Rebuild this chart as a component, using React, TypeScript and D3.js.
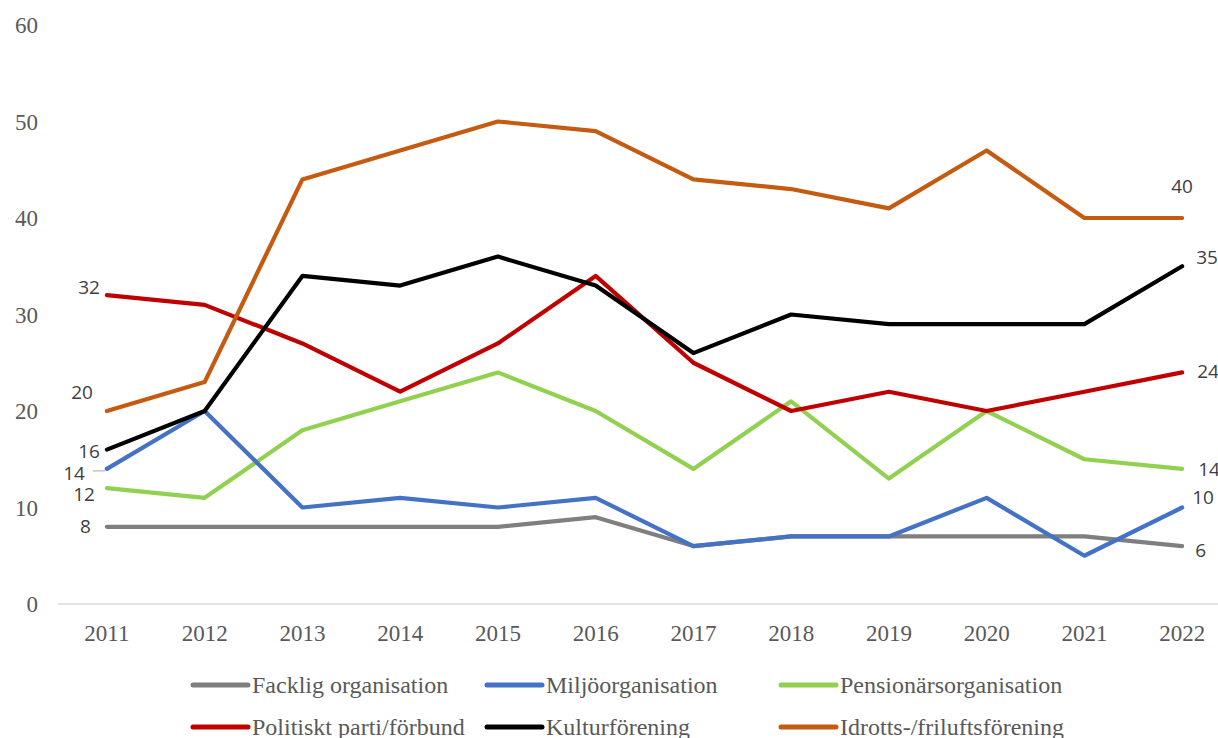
import React from "react";
import * as d3 from "d3";

const years = ["2011","2012","2013","2014","2015","2016","2017","2018","2019","2020","2021","2022"];
const facklig = [8,8,8,8,8,9,6,7,7,7,7,6];
const miljo = [14,20,10,11,10,11,6,7,7,11,5,10];
const pension = [12,11,18,21,24,20,14,21,13,20,15,14];
const politiskt = [32,31,27,22,27,34,25,20,22,20,22,24];
const kultur = [16,20,34,33,36,33,26,30,29,29,29,35];
const idrott = [20,23,44,47,50,49,44,43,41,47,40,40];
const yTicks = [0,10,20,30,40,50,60];

const seriesNames = ["Facklig organisation","Miljöorganisation","Pensionärsorganisation","Politiskt parti/förbund","Kulturförening","Idrotts-/friluftsförening"];
const seriesValues = [facklig, miljo, pension, politiskt, kultur, idrott];
const colors = ["#7f7f7f","#4472c4","#92d050","#c00000","#000000","#c55a11"];
const drawOrder = [2,0,1,3,4,5];

const endLabels: [number, number, number, number, string][] = [
  [3, 0, -7, -8, "end"],
  [5, 0, -14, -19, "end"],
  [4, 0, -7, 2, "end"],
  [1, 0, -22, 4, "end"],
  [2, 0, -12, 6, "end"],
  [0, 0, -16, 0, "end"],
  [5, 11, 0, -32, "middle"],
  [4, 11, 14, -9, "start"],
  [3, 11, 15, -1, "start"],
  [2, 11, 16, 0, "start"],
  [1, 11, 10, -10, "start"],
  [0, 11, 13, 4, "start"],
];

export default function App() {
  const W = 1218, H = 738;
  const x = d3.scaleBand().domain(years).range([58, 1231]).paddingInner(0).paddingOuter(0);
  const xc = (i: number) => (x(years[i]) as number) + x.bandwidth() / 2;
  const y = d3.scaleLinear().domain([0, 60]).range([604, 25]);
  const line = d3.line<number>().x((_, i) => xc(i)).y((v) => y(v));

  const legendPos = [
    [193, 685], [487, 685], [781, 685],
    [193, 727], [487, 727], [781, 727],
  ];

  return (
    <svg width={W} height={H} style={{ position: "fixed", left: 0, top: 0, background: "#fff" }}>
      <line x1={58} x2={1231} y1={y(0)} y2={y(0)} stroke="#d9d9d9" strokeWidth={1.5} />
      {yTicks.map((t) => (
        <text key={t} x={38} y={y(t)} dy="0.35em" textAnchor="end" fontFamily="Liberation Serif" fontSize={23} fill="#595959">{t}</text>
      ))}
      {years.map((yr, i) => (
        <text key={yr} x={xc(i)} y={641} textAnchor="middle" fontFamily="Liberation Serif" fontSize={23} fill="#595959">{yr}</text>
      ))}
      {drawOrder.map((si) => (
        <path key={si} d={line(seriesValues[si]) as string} fill="none" stroke={colors[si]} strokeWidth={4.2} strokeLinejoin="round" strokeLinecap="round" />
      ))}
      <line x1={93} x2={105} y1={y(miljo[0]) + 2} y2={y(miljo[0]) + 2} stroke="#a6a6a6" strokeWidth={1} />
      {endLabels.map(([si, pi, dx, dy, anchor], k) => (
        <text key={k} x={xc(pi) + dx} y={y(seriesValues[si][pi]) + dy} dy="0.35em" textAnchor={anchor as any} fontFamily="Open Sans, Liberation Sans, sans-serif" fontSize={19} fill="#404040">{seriesValues[si][pi]}</text>
      ))}
      {seriesNames.map((name, i) => (
        <g key={name}>
          <line x1={legendPos[i][0]} x2={legendPos[i][0] + 55} y1={legendPos[i][1]} y2={legendPos[i][1]} stroke={colors[i]} strokeWidth={5} strokeLinecap="round" />
          <text x={legendPos[i][0] + 59} y={legendPos[i][1]} dy="0.35em" fontFamily="Liberation Serif" fontSize={24} fill="#595959">{name}</text>
        </g>
      ))}
    </svg>
  );
}
